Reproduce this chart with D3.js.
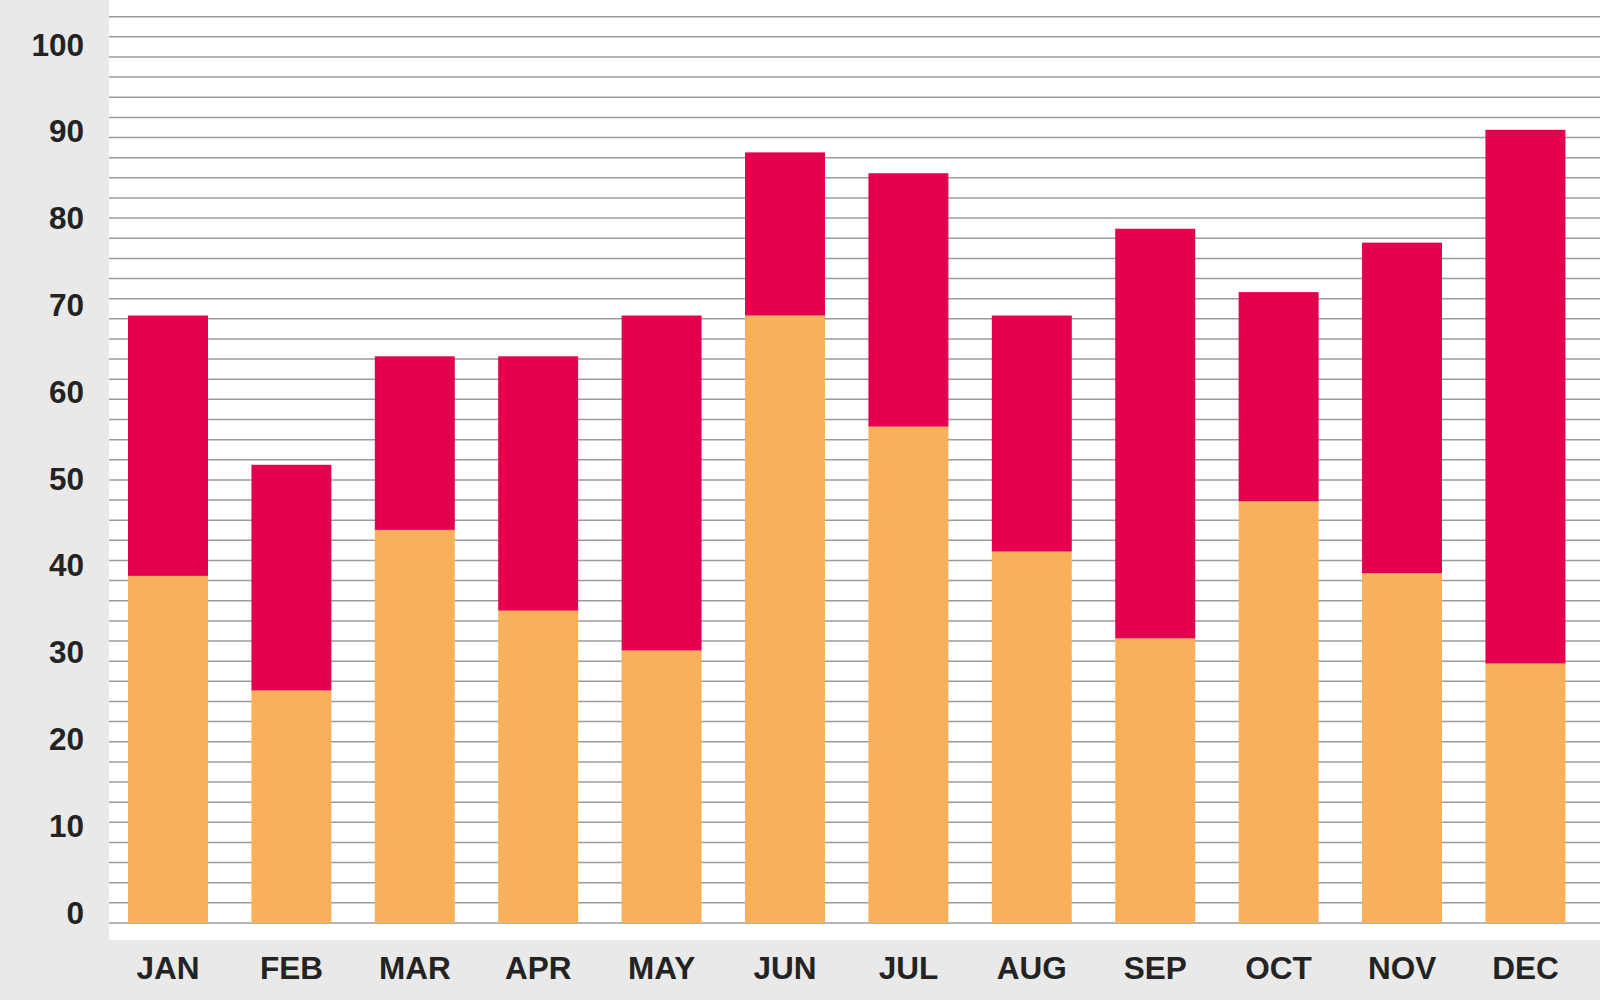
<!DOCTYPE html>
<html>
<head>
	<meta charset="utf-8">
	<title>Monthly stacked bars</title>
	<script src="https://cdn.jsdelivr.net/npm/d3@7"></script>
	<style>
		body { margin: 0; background: #e9e9e9; }
		svg { display: block; }
		.axis text { font-family: "Liberation Sans", Arial, sans-serif; font-weight: bold; fill: #232323; }
	</style>
</head>
<body>
<script>

	// data
	var months = ["JAN", "FEB", "MAR", "APR", "MAY", "JUN", "JUL", "AUG", "SEP", "OCT", "NOV", "DEC"];
	var lower  = [40.0, 26.8, 45.3, 36.0, 31.4, 70.0, 57.2, 42.8, 32.8, 48.6, 40.3, 29.9];
	var upper  = [30.0, 26.0, 20.0, 29.3, 38.6, 18.8, 29.2, 27.2, 47.2, 24.1, 38.1, 61.5];
	var yTicks = [0, 10, 20, 30, 40, 50, 60, 70, 80, 90, 100];
	var gridCount = 45;

	var colors = { lower: "#f8b15a", upper: "#e3014f" };

	var width = 1600, height = 1000;
	var plotLeft = 109, plotBottom = 940, baseY = 923;

	var rows = months.map(function(m, i){ return { month: m, lower: lower[i], upper: upper[i] }; });
	var series = d3.stack().keys(["lower", "upper"])(rows);

	var svg = d3.select("body").append("svg")
		.attr("width", width)
		.attr("height", height);

	// white plot panel
	svg.append("rect")
		.attr("x", plotLeft)
		.attr("y", 0)
		.attr("width", width - plotLeft)
		.attr("height", plotBottom)
		.attr("fill", "#ffffff");

	var x = d3.scaleBand()
		.domain(months)
		.range([plotLeft, 1584.4])
		.paddingInner(0.352)
		.paddingOuter(0.154);

	var y = d3.scaleLinear()
		.domain([0, 100])
		.range([baseY, 55.2]);

	// the grey rules are not tied to the value ticks
	var g = d3.scaleLinear().domain([0, gridCount]).range([baseY, 16.7]);

	svg.append("g").selectAll("line")
		.data(d3.range(0, gridCount + 1))
		.enter()
			.append("line")
			.attr("x1", plotLeft)
			.attr("x2", width)
			.attr("y1", function(d){ return g(d); })
			.attr("y2", function(d){ return g(d); })
			.attr("stroke", "#9b9b9b")
			.attr("stroke-width", 1.5);

	svg.append("g").selectAll("g")
		.data(series)
		.enter()
			.append("g")
			.attr("fill", function(d){ return colors[d.key]; })
		.selectAll("rect")
		.data(function(d){ return d; })
		.enter()
			.append("rect")
			.attr("x", function(d){ return x(d.data.month); })
			.attr("width", x.bandwidth())
			.attr("y", function(d){ return y(d[1]); })
			.attr("height", function(d){ return y(d[0]) - y(d[1]); });

	var yAxis = svg.append("g")
		.attr("class", "axis")
		.attr("transform", "translate(84,0)")
		.call(d3.axisLeft(y).tickValues(yTicks).tickSize(0).tickPadding(0));
	yAxis.select(".domain").remove();
	yAxis.selectAll("text").attr("dy", null).attr("font-size", 31.5);

	var xAxis = svg.append("g")
		.attr("class", "axis")
		.attr("transform", "translate(0,979)")
		.call(d3.axisBottom(x).tickSize(0).tickPadding(0));
	xAxis.select(".domain").remove();
	xAxis.selectAll("text").attr("y", 0).attr("dy", null).attr("font-size", 31.5);

</script>
</body>
</html>
